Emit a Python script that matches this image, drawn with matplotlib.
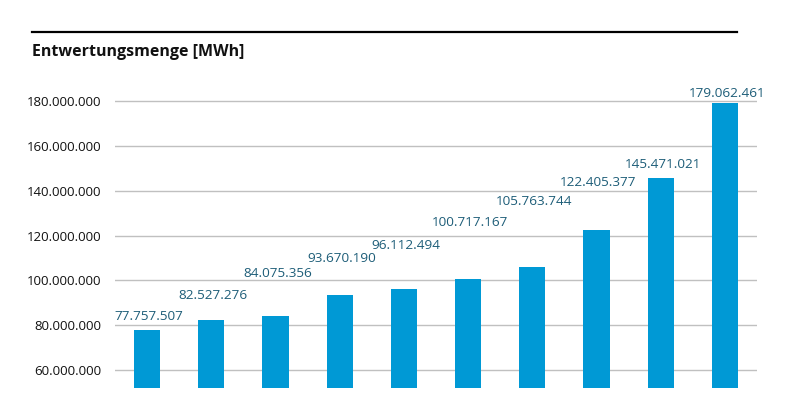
import matplotlib.pyplot as plt
from matplotlib.lines import Line2D
from matplotlib.ticker import FuncFormatter

# Daten (Entwertungsmenge in MWh)
years = ["1", "2", "3", "4", "5", "6", "7", "8", "9", "10"]
values = [77757507, 82527276, 84075356, 93670190, 96112494,
          100717167, 105763744, 122405377, 145471021, 179062461]
y_ticks = [60000000, 80000000, 100000000, 120000000, 140000000, 160000000, 180000000]

# Abstand der Beschriftung über dem Balken (Pixel)
label_offsets = [14, 24, 43, 36, 44, 56, 66, 48, 14, 10]


def de_format(v, pos=None):
    return f"{int(v):,}".replace(",", ".")


plt.rcParams['font.family'] = ['Open Sans', 'DejaVu Sans']

fig = plt.figure(figsize=(8, 4), dpi=100)
ax = fig.add_axes([0.14375, 0.03, 0.8025, 0.745])

x = range(len(years))
ax.bar(x, values, width=0.41, color='#0099d5', zorder=2)

for i, v in enumerate(values):
    ax.annotate(de_format(v), (i, v), xytext=(2, label_offsets[i]),
                textcoords='offset pixels', ha='center', va='center',
                fontsize=9.7, color='#1d5d78')

ax.set_xlim(-0.5, len(years) - 0.5)
ax.set_ylim(52000000, 184900000)
ax.set_yticks(y_ticks)
ax.yaxis.set_major_formatter(FuncFormatter(de_format))
ax.tick_params(axis='y', length=0, pad=10, labelsize=9.5, labelcolor='#111111')
ax.set_xticks([])
ax.grid(axis='y', color='#c0c0c0', linewidth=1, zorder=1)
for s in ax.spines.values():
    s.set_visible(False)

# Titel und Linie oben
fig.text(0.04, 0.87, "Entwertungsmenge [MWh]", fontsize=11.5, fontweight='bold',
         va='center', ha='left', color='#111111')
fig.add_artist(Line2D([0.04, 0.921], [0.92, 0.92], color='black', linewidth=1.6,
                      transform=fig.transFigure))

fig.savefig('out.png', dpi=100)
